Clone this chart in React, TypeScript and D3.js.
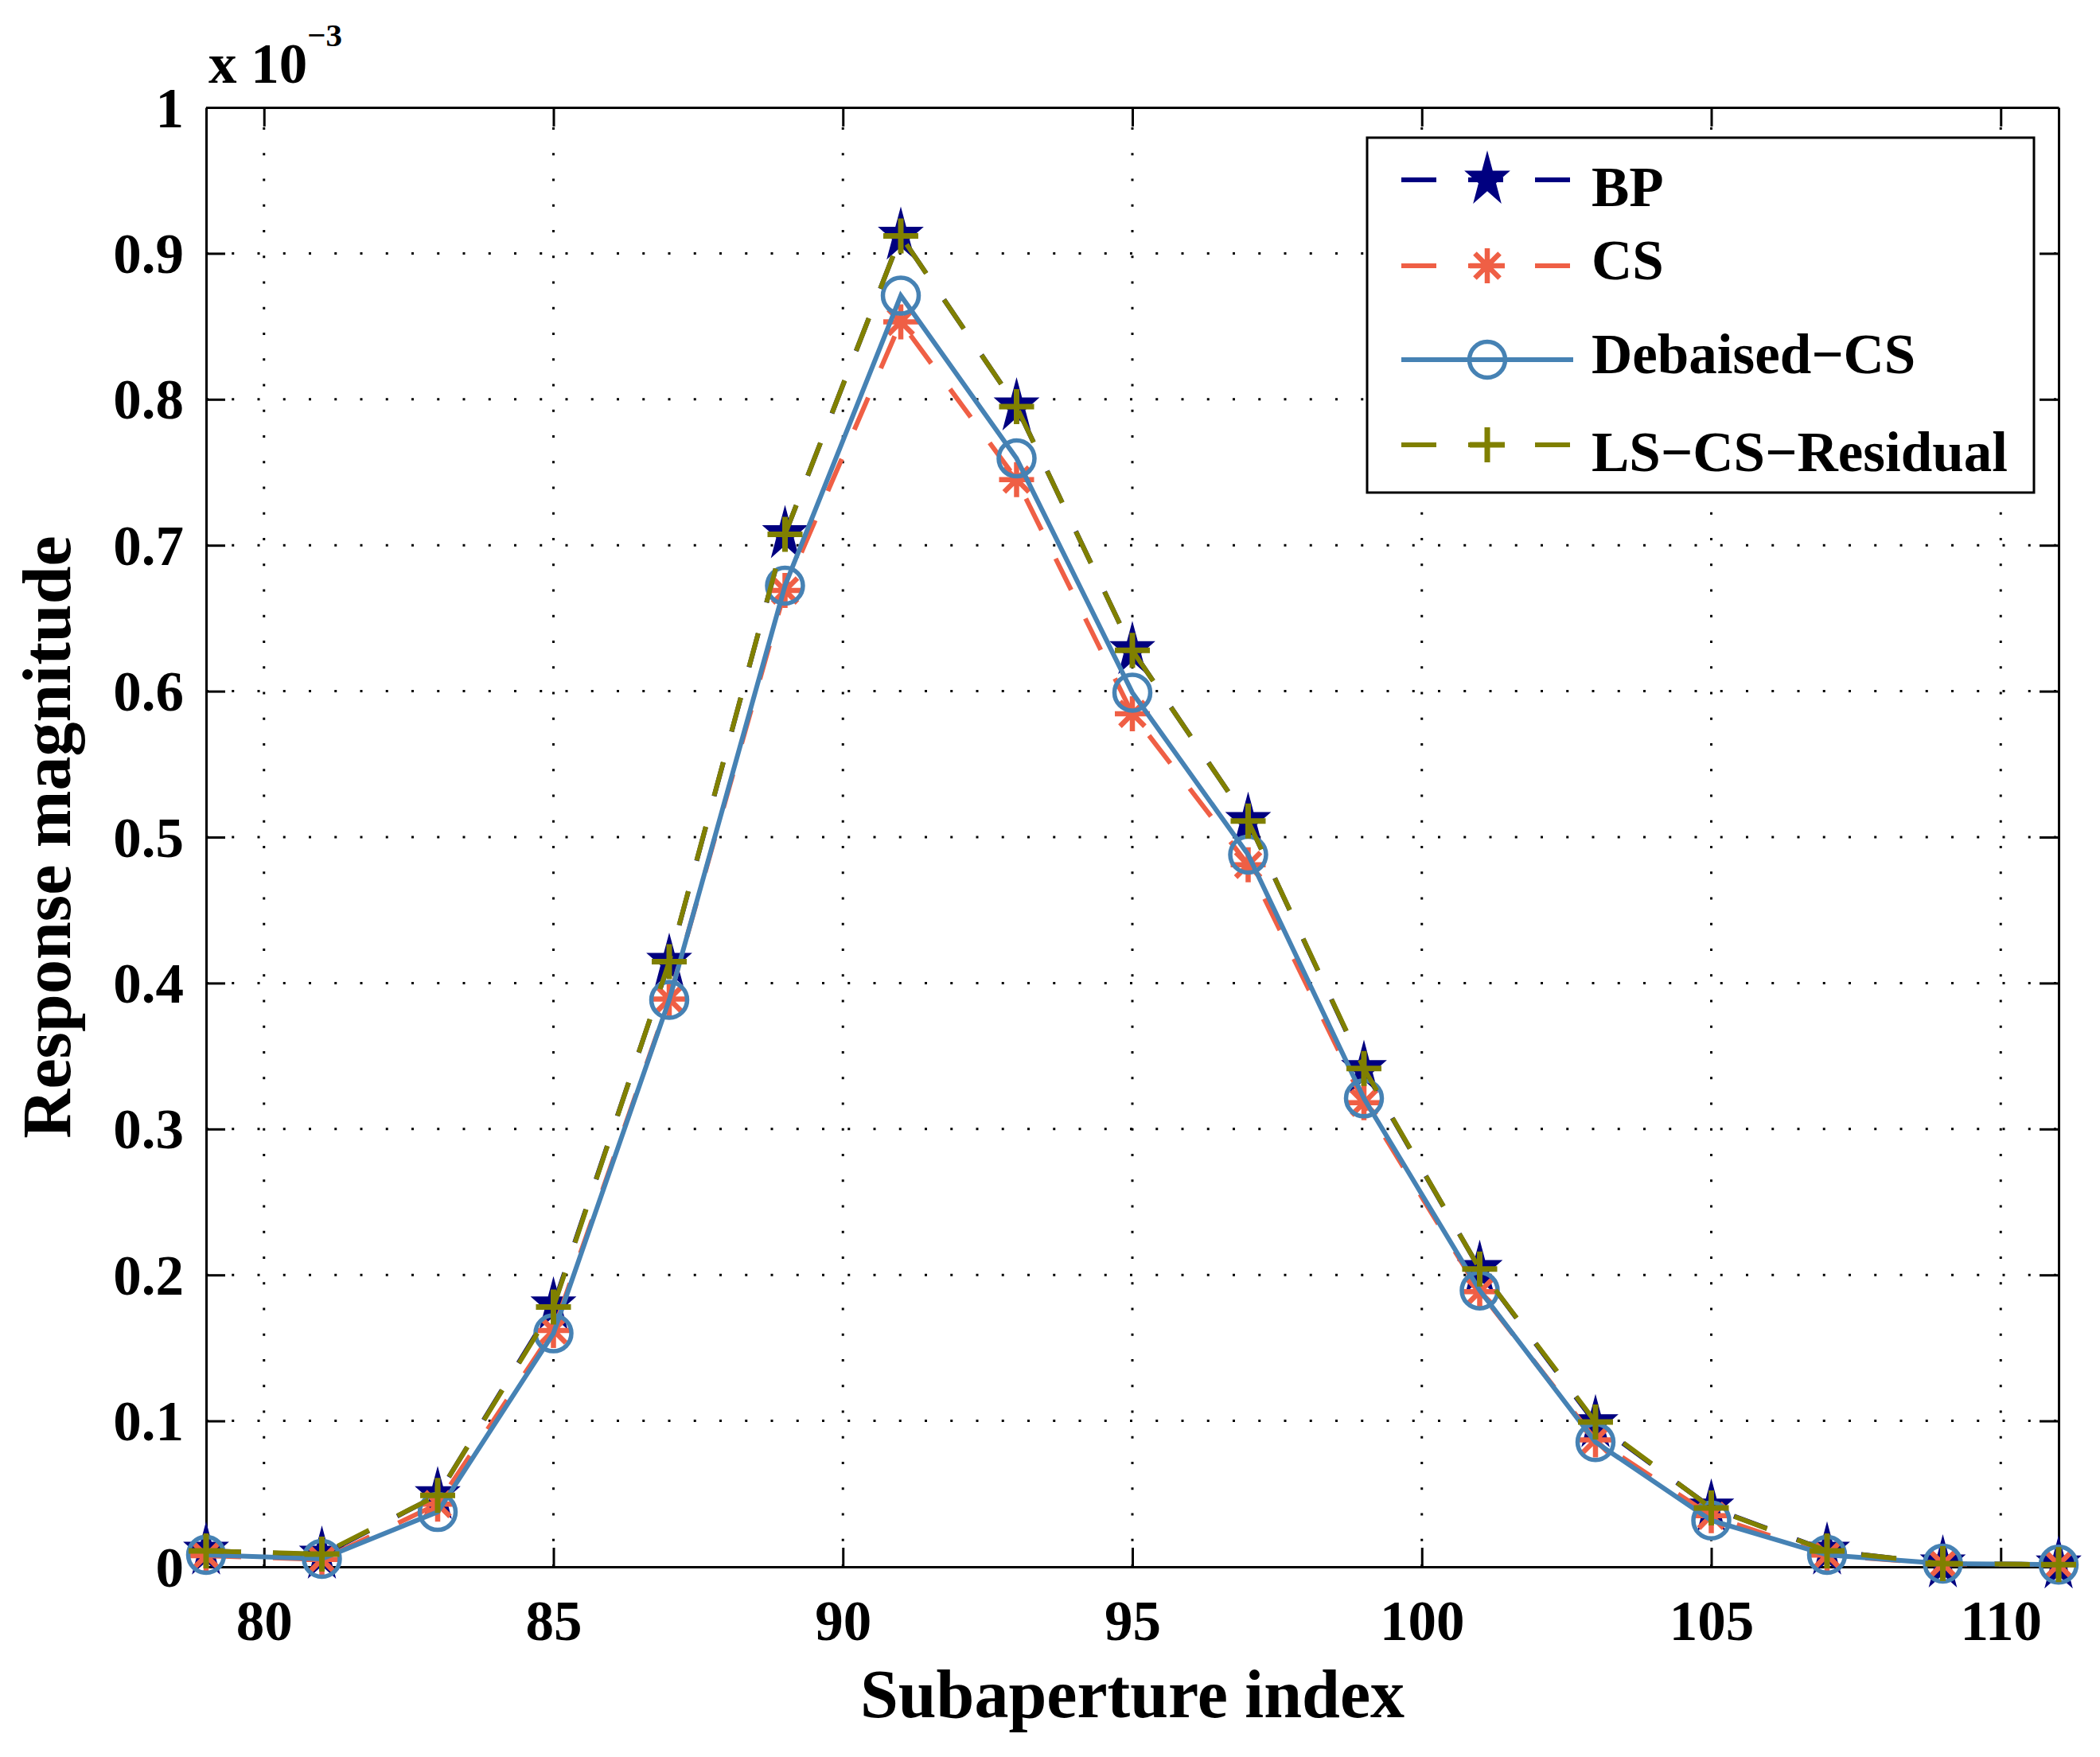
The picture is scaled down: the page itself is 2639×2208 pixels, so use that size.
import { useEffect, useRef } from 'react';
import * as d3 from 'd3';

// subaperture indices (x) and response magnitudes in units of 1e-3
const subaperture = [79, 81, 83, 85, 87, 89, 91, 93, 95, 97, 99, 101, 103, 105, 107, 109, 111];
const bpValues = [0.011, 0.0082, 0.049, 0.179, 0.4144, 0.7075, 0.912, 0.795, 0.628, 0.511, 0.341, 0.204, 0.0983, 0.0405, 0.011, 0.0022, 0.0015];
const csValues = [0.0076, 0.005, 0.043, 0.162, 0.389, 0.669, 0.853, 0.745, 0.5845, 0.481, 0.318, 0.1885, 0.087, 0.035, 0.008, 0.002, 0.0015];
const debiasedValues = [0.0082, 0.0055, 0.0376, 0.16, 0.3885, 0.6723, 0.871, 0.7595, 0.599, 0.488, 0.321, 0.1894, 0.0855, 0.0318, 0.0082, 0.0022, 0.0015];
const lsResidualValues = [0.0109, 0.0087, 0.049, 0.178, 0.4147, 0.7075, 0.912, 0.795, 0.628, 0.511, 0.3415, 0.204, 0.0992, 0.0403, 0.0109, 0.0022, 0.0015];

const xTicks = [80, 85, 90, 95, 100, 105, 110];
const yTicks = [0, 0.1, 0.2, 0.3, 0.4, 0.5, 0.6, 0.7, 0.8, 0.9, 1];
const yTickLabels = ['0', '0.1', '0.2', '0.3', '0.4', '0.5', '0.6', '0.7', '0.8', '0.9', '1'];
const seriesNames = ['BP', 'CS', 'Debaised\u2212CS', 'LS\u2212CS\u2212Residual'];

type Marker = 'star' | 'asterisk' | 'circle' | 'plus';

export default function App() {
  const svgRef = useRef<SVGSVGElement>(null);

  useEffect(() => {
    if (!svgRef.current) return;

    const W = 2639;
    const H = 2208;
    const margin = { top: 135, right: 52, bottom: 239, left: 259 };
    const font = '"Liberation Serif", "Times New Roman", serif';

    const root = d3.select(svgRef.current);
    root.selectAll('*').remove();
    root.attr('width', W).attr('height', H).attr('viewBox', `0 0 ${W} ${H}`);
    root.append('rect').attr('width', W).attr('height', H).attr('fill', '#fff');

    const x = d3
      .scaleLinear()
      .domain([79, 111])
      .range([margin.left, W - margin.right]);
    const y = d3
      .scaleLinear()
      .domain([0, 1])
      .range([H - margin.bottom, margin.top]);

    // dotted grid
    const grid = root.append('g');
    grid
      .selectAll('.vgrid')
      .data(xTicks)
      .enter()
      .append('line')
      .attr('x1', (d) => x(d))
      .attr('x2', (d) => x(d))
      .attr('y1', y(0))
      .attr('y2', y(1))
      .attr('stroke', '#000')
      .attr('stroke-width', 3)
      .attr('stroke-dasharray', '3 29.25');
    grid
      .selectAll('.hgrid')
      .data(yTicks.slice(1, -1))
      .enter()
      .append('line')
      .attr('x1', x(79))
      .attr('x2', x(111))
      .attr('y1', (d) => y(d))
      .attr('y2', (d) => y(d))
      .attr('stroke', '#000')
      .attr('stroke-width', 3)
      .attr('stroke-dasharray', '3 29.25');

    // axes with inward ticks on all four sides
    const styleAxis = (g: d3.Selection<SVGGElement, unknown, null, undefined>) => {
      g.select('.domain').attr('stroke', '#000').attr('stroke-width', 3);
      g.selectAll('.tick line').attr('stroke', '#000').attr('stroke-width', 3);
      g.selectAll('text')
        .attr('fill', '#000')
        .style('font-family', font)
        .style('font-weight', 'bold')
        .style('font-size', '71px');
    };

    const bottom = root
      .append('g')
      .attr('transform', `translate(0, ${y(0)})`)
      .call(d3.axisBottom<number>(x).tickValues(xTicks).tickSizeInner(-24).tickSizeOuter(0).tickFormat((d) => `${d}`));
    styleAxis(bottom);
    bottom.selectAll('text').attr('y', 92).attr('dy', '0');

    const top = root
      .append('g')
      .attr('transform', `translate(0, ${y(1)})`)
      .call(d3.axisTop<number>(x).tickValues(xTicks).tickSizeInner(-24).tickSizeOuter(0).tickFormat(() => ''));
    styleAxis(top);

    const left = root
      .append('g')
      .attr('transform', `translate(${x(79)}, 0)`)
      .call(
        d3
          .axisLeft<number>(y)
          .tickValues(yTicks)
          .tickSizeInner(-24)
          .tickSizeOuter(0)
          .tickFormat((_, i) => yTickLabels[i]),
      );
    styleAxis(left);
    left.selectAll('text').attr('x', -28).attr('dy', '0.34em');

    const right = root
      .append('g')
      .attr('transform', `translate(${x(111)}, 0)`)
      .call(d3.axisRight<number>(y).tickValues(yTicks).tickSizeInner(-24).tickSizeOuter(0).tickFormat(() => ''));
    styleAxis(right);

    // markers
    const starPath = d3.symbol().type(d3.symbolStar).size(1537)() as string;
    const ar = 22;
    const ad = ar * 0.707;
    const asteriskPath = `M${-ar},0L${ar},0M0,${-ar}L0,${ar}M${-ad},${-ad}L${ad},${ad}M${-ad},${ad}L${ad},${-ad}`;
    const pr = 22;
    const plusPath = `M${-pr},0L${pr},0M0,${-pr}L0,${pr}`;

    const drawMarker = (
      g: d3.Selection<SVGGElement, unknown, null, undefined>,
      kind: Marker,
      color: string,
      cx: number,
      cy: number,
    ) => {
      if (kind === 'star') {
        g.append('path')
          .attr('d', starPath)
          .attr('transform', `translate(${cx}, ${cy}) scale(0.82, 1)`)
          .attr('fill', color);
      } else if (kind === 'asterisk') {
        g.append('path')
          .attr('d', asteriskPath)
          .attr('transform', `translate(${cx}, ${cy})`)
          .attr('fill', 'none')
          .attr('stroke', color)
          .attr('stroke-width', 6.5);
      } else if (kind === 'circle') {
        g.append('circle')
          .attr('cx', cx)
          .attr('cy', cy)
          .attr('r', 22.5)
          .attr('fill', 'none')
          .attr('stroke', color)
          .attr('stroke-width', 5.5);
      } else {
        g.append('path')
          .attr('d', plusPath)
          .attr('transform', `translate(${cx}, ${cy})`)
          .attr('fill', 'none')
          .attr('stroke', color)
          .attr('stroke-width', 7);
      }
    };

    const series = [
      { name: seriesNames[0], values: bpValues, color: '#000080', dash: '44 40', marker: 'star' as Marker },
      { name: seriesNames[1], values: csValues, color: '#EF5F45', dash: '44 40', marker: 'asterisk' as Marker },
      { name: seriesNames[2], values: debiasedValues, color: '#4682B4', dash: null, marker: 'circle' as Marker },
      { name: seriesNames[3], values: lsResidualValues, color: '#808000', dash: '44 40', marker: 'plus' as Marker },
    ];

    const line = d3
      .line<number>()
      .x((_, i) => x(subaperture[i]))
      .y((d) => y(d));

    series.forEach((s) => {
      const g = root.append('g');
      g.append('path')
        .datum(s.values)
        .attr('fill', 'none')
        .attr('stroke', s.color)
        .attr('stroke-width', 6)
        .attr('stroke-dasharray', s.dash)
        .attr('d', line);
      s.values.forEach((v, i) => drawMarker(g, s.marker, s.color, x(subaperture[i]), y(v)));
    });

    // legend (sample rows and label rows sit at slightly different heights, as in the figure)
    const legendLineY = [226, 334, 452, 559];
    const legendTextY = [235, 327, 445, 568];
    const legend = root.append('g');
    legend
      .append('rect')
      .attr('x', 1718)
      .attr('y', 173)
      .attr('width', 838)
      .attr('height', 446)
      .attr('fill', '#fff')
      .attr('stroke', '#000')
      .attr('stroke-width', 3);
    series.forEach((s, i) => {
      const ly = legendLineY[i];
      const g = legend.append('g');
      g.append('line')
        .attr('x1', 1761)
        .attr('x2', 1977)
        .attr('y1', ly)
        .attr('y2', ly)
        .attr('stroke', s.color)
        .attr('stroke-width', 6)
        .attr('stroke-dasharray', s.dash);
      drawMarker(g, s.marker, s.color, 1869, ly);
      g.append('text')
        .attr('x', 2000)
        .attr('y', legendTextY[i] + 24)
        .style('font-family', font)
        .style('font-weight', 'bold')
        .style('font-size', '71px')
        .text(s.name);
    });

    // exponent label
    const expo = root
      .append('text')
      .attr('x', 262)
      .attr('y', 104)
      .style('font-family', font)
      .style('font-weight', 'bold')
      .style('font-size', '71px');
    expo.append('tspan').text('x 10');
    expo.append('tspan').attr('dy', -46).style('font-size', '41px').text('\u22123');

    // axis titles
    root
      .append('text')
      .attr('x', (x(79) + x(111)) / 2)
      .attr('y', 2158)
      .attr('text-anchor', 'middle')
      .style('font-family', font)
      .style('font-weight', 'bold')
      .style('font-size', '86px')
      .text('Subaperture index');
    root
      .append('text')
      .attr('transform', `translate(88, ${(y(0) + y(1)) / 2}) rotate(-90)`)
      .attr('text-anchor', 'middle')
      .style('font-family', font)
      .style('font-weight', 'bold')
      .style('font-size', '86px')
      .text('Response magnitude');
  }, []);

  return <svg ref={svgRef} style={{ position: 'absolute', left: 0, top: 0, display: 'block' }} />;
}
